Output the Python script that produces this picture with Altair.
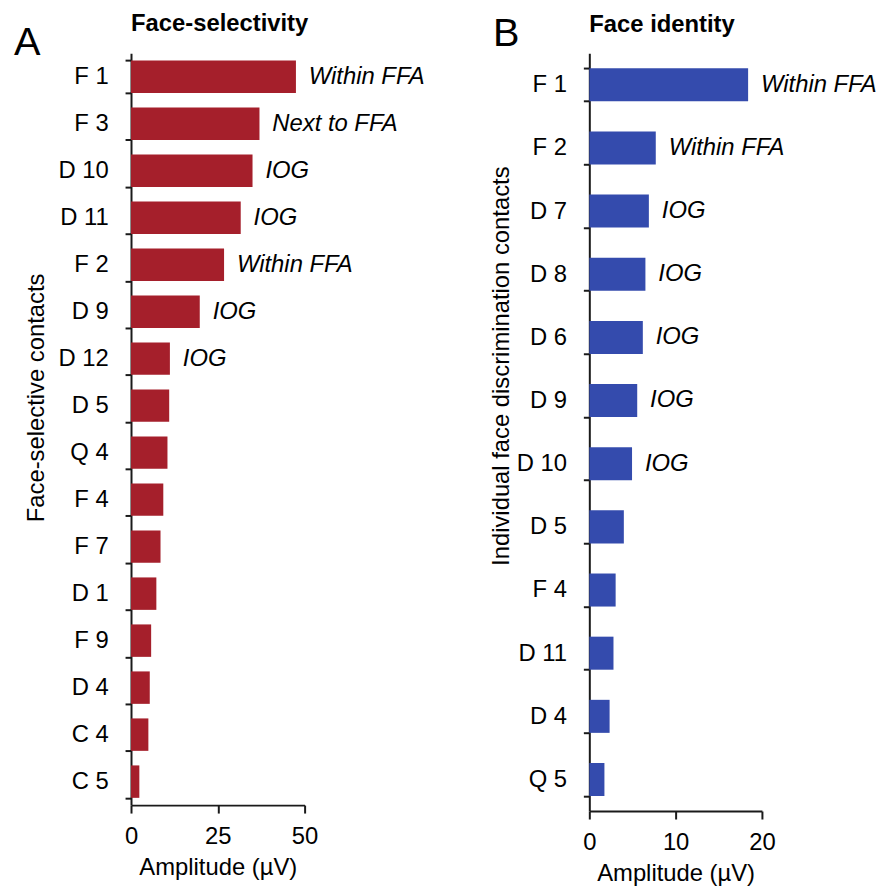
import altair as alt
import pandas as pd

FONT = "Liberation Sans"

# Panel A: face-selective contacts
left_contacts = ["F 1", "F 3", "D 10", "D 11", "F 2", "D 9", "D 12", "D 5",
                 "Q 4", "F 4", "F 7", "D 1", "F 9", "D 4", "C 4", "C 5"]
left_values = [47.5, 37.0, 35.0, 31.6, 26.8, 19.8, 11.2, 11.0,
               10.5, 9.3, 8.5, 7.3, 5.8, 5.4, 5.0, 2.4]
left_regions = ["Within FFA", "Next to FFA", "IOG", "IOG", "Within FFA", "IOG", "IOG", "",
                "", "", "", "", "", "", "", ""]
left_ticks = [0, 25, 50]

# Panel B: individual face discrimination contacts
right_contacts = ["F 1", "F 2", "D 7", "D 8", "D 6", "D 9", "D 10", "D 5",
                  "F 4", "D 11", "D 4", "Q 5"]
right_values = [18.4, 7.7, 6.9, 6.5, 6.2, 5.55, 4.95, 4.0,
                3.05, 2.8, 2.35, 1.75]
right_regions = ["Within FFA", "Within FFA", "IOG", "IOG", "IOG", "IOG", "IOG", "",
                 "", "", "", ""]
right_ticks = [0, 10, 20]

AXIS_COLOR = "#1a1a1a"


def panel(contacts, values, regions, color, xticks, ytitle, title, letter,
          width, height, pad_inner, letter_x, letter_y, ytitle_x, ytitle_y, title_y):
    df = pd.DataFrame({"contact": contacts, "amp": values, "region": regions})
    yscale = alt.Scale(paddingInner=pad_inner, paddingOuter=pad_inner / 2)
    yenc = alt.Y(
        "contact:N", sort=contacts, scale=yscale,
        axis=alt.Axis(
            title=ytitle, tickBand="extent", tickSize=6, tickWidth=2,
            tickColor=AXIS_COLOR, domainColor=AXIS_COLOR, domainWidth=2,
            labelFont=FONT, labelFontSize=24, labelColor="#000", labelPadding=17,
            titleFont=FONT, titleFontSize=24, titleFontWeight="normal", titleColor="#000",
            titleX=ytitle_x, titleY=ytitle_y, titleAngle=270,
            titleBaseline="alphabetic", titleAlign="center",
        ),
    )
    xenc = alt.X(
        "amp:Q",
        scale=alt.Scale(domain=[xticks[0], xticks[-1]], nice=False, zero=True),
        axis=alt.Axis(
            values=xticks, title="Amplitude (µV)", grid=False, tickSize=8, tickWidth=2,
            tickColor=AXIS_COLOR, domainColor=AXIS_COLOR, domainWidth=2,
            labelFont=FONT, labelFontSize=24, labelColor="#000", labelPadding=12,
            labelFlush=False,
            titleFont=FONT, titleFontSize=24, titleFontWeight="normal", titleColor="#000",
            titlePadding=7,
        ),
    )
    bars = alt.Chart(df).mark_bar(color=color).encode(x=xenc, y=yenc)
    labels = alt.Chart(df).mark_text(
        align="left", baseline="middle", dx=13, font=FONT, fontSize=24,
        fontStyle="italic", color="#000",
    ).encode(x="amp:Q", y=alt.Y("contact:N", sort=contacts), text="region:N")
    head_df = pd.DataFrame({"letter": [letter], "title": [title]})
    letter_mark = alt.Chart(head_df).mark_text(
        align="left", baseline="alphabetic", font=FONT, fontSize=40, color="#000",
    ).encode(x=alt.value(letter_x), y=alt.value(letter_y), text="letter:N")
    title_mark = alt.Chart(head_df).mark_text(
        align="left", baseline="alphabetic", font=FONT, fontSize=24,
        fontWeight="bold", color="#000",
    ).encode(x=alt.value(0), y=alt.value(title_y), text="title:N")
    return alt.layer(bars, labels, letter_mark, title_mark).properties(
        width=width, height=height,
    )


left = panel(left_contacts, left_values, left_regions, "#A51F2B", left_ticks,
             "Face-selective contacts", "Face-selectivity", "A",
             175, 758, 0.31, -118, 2, -88, 347, -22)
right = panel(right_contacts, right_values, right_regions, "#344BAD", right_ticks,
              "Individual face discrimination contacts", "Face identity", "B",
              174, 764, 0.477, -97, -7, -81, 315, -21)

chart = alt.hconcat(left, right, spacing=287, bounds="flush").properties(
    padding={"left": 6, "top": 1, "right": 0, "bottom": 0}
).configure_view(stroke=None)

chart.save("out.html", embed_options={"renderer": "svg", "actions": False})
